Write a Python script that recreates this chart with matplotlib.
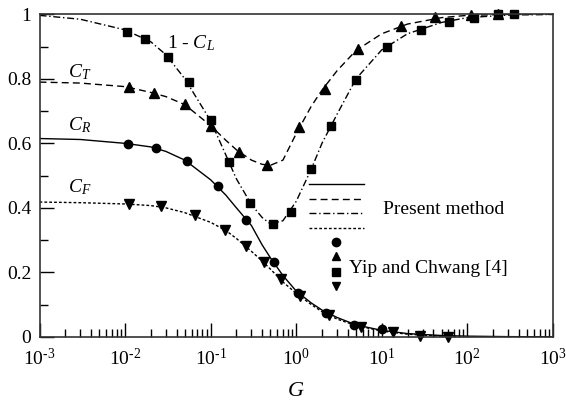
import numpy as np
import matplotlib.pyplot as plt
from matplotlib.ticker import FixedLocator, NullFormatter
from matplotlib.lines import Line2D

plt.rcParams['font.family'] = 'Liberation Serif'
plt.rcParams['mathtext.fontset'] = 'custom'
plt.rcParams['mathtext.rm'] = 'Liberation Serif'
plt.rcParams['mathtext.it'] = 'Liberation Serif:italic'

# present method curves
G_line = [1e-3, 3e-3, 1e-2, 2e-2, 3e-2, 5e-2, 0.1, 0.15, 0.2, 0.3, 0.4, 0.5, 0.7,
          1, 1.5, 2, 3, 5, 10, 20, 50, 100, 300, 1000]
CR_line = [0.615, 0.612, 0.600, 0.589, 0.575, 0.548, 0.487, 0.440, 0.400, 0.345, 0.285,
           0.245, 0.190, 0.142, 0.105, 0.083, 0.060, 0.037, 0.020, 0.010, 0.004,
           0.002, 0.0005, 0.0]
CT_line = [0.790, 0.787, 0.776, 0.758, 0.745, 0.720, 0.655, 0.610, 0.580, 0.548, 0.535,
           0.532, 0.548, 0.630, 0.715, 0.765, 0.825, 0.888, 0.940, 0.970, 0.990,
           0.997, 1.0, 1.0]
CL_line = [0.997, 0.985, 0.952, 0.915, 0.875, 0.800, 0.670, 0.565, 0.490, 0.410, 0.370,
           0.350, 0.360, 0.420, 0.520, 0.600, 0.690, 0.800, 0.890, 0.940, 0.975,
           0.990, 0.998, 1.0]
CF_line = [0.418, 0.416, 0.412, 0.407, 0.400, 0.385, 0.355, 0.330, 0.305, 0.265, 0.235,
           0.210, 0.170, 0.135, 0.100, 0.078, 0.055, 0.035, 0.018, 0.008, 0.002,
           0.0, 0.0, 0.0]

# Yip and Chwang [4]
G_R = [0.0107, 0.023, 0.0525, 0.123, 0.258, 0.55, 1.05, 2.22, 4.77, 9.96]
CR_pts = [0.598, 0.587, 0.545, 0.467, 0.362, 0.231, 0.136, 0.073, 0.038, 0.023]
G_T = [0.0111, 0.022, 0.05, 0.1, 0.214, 0.45, 1.08, 2.16, 5.3, 16.6, 42, 110, 229]
CT_pts = [0.774, 0.755, 0.721, 0.655, 0.574, 0.533, 0.65, 0.77, 0.892, 0.965, 0.993,
          0.998, 1.0]
G_L = [0.0105, 0.017, 0.032, 0.056, 0.1, 0.165, 0.288, 0.53, 0.86, 1.49, 2.54, 4.98,
       11.4, 28.4, 60.8, 120, 229, 352]
CL_pts = [0.946, 0.923, 0.867, 0.789, 0.672, 0.541, 0.416, 0.35, 0.388, 0.519, 0.654,
          0.796, 0.9, 0.953, 0.976, 0.99, 1.0, 1.0]
G_F = [0.0112, 0.026, 0.066, 0.147, 0.257, 0.42, 0.66, 1.12, 2.43, 5.7, 13.4, 27.9, 59.7]
CF_pts = [0.412, 0.405, 0.377, 0.331, 0.282, 0.233, 0.178, 0.127, 0.067, 0.031, 0.014,
          0.003, 0.0]

x_ticks = [1e-3, 1e-2, 1e-1, 1e0, 1e1, 1e2, 1e3]
x_ticklabels = [r'10$^{\text{-3}}$', r'10$^{\text{-2}}$', r'10$^{\text{-1}}$',
                r'10$^{\text{0}}$', r'10$^{\text{1}}$', r'10$^{\text{2}}$', r'10$^{\text{3}}$']
y_ticks = [0, 0.2, 0.4, 0.6, 0.8, 1.0]
y_ticklabels = ['0', '0.2', '0.4', '0.6', '0.8', '1']

fig = plt.figure(figsize=(5.66, 4.0), dpi=100)
ax = fig.add_axes([0.0698, 0.158, 0.907, 0.806])

lw = 1.0
ax.plot(G_line, CR_line, '-', color='k', lw=lw)
ax.plot(G_line, CT_line, color='k', lw=lw, dashes=(5, 3))
ax.plot(G_line, CL_line, color='k', lw=lw, dashes=(5, 2, 1, 2))
ax.plot(G_line, CF_line, color='k', lw=lw, dashes=(2, 1.5))

ms = 6
ax.plot(G_R, CR_pts, 'o', color='k', ms=ms, clip_on=False)
ax.plot(G_T, CT_pts, '^', color='k', ms=ms + 0.5, clip_on=False)
ax.plot(G_L, CL_pts, 's', color='k', ms=ms - 0.5, clip_on=False)
ax.plot(G_F, CF_pts, 'v', color='k', ms=ms + 0.5, clip_on=False)

ax.set_xscale('log')
ax.set_xlim(1e-3, 1e3)
ax.set_ylim(0, 1)
ax.set_xticks(x_ticks)
ax.set_xticklabels(x_ticklabels)
ax.yaxis.set_major_locator(FixedLocator(y_ticks))
ax.yaxis.set_minor_locator(FixedLocator([0.1, 0.3, 0.5, 0.7, 0.9]))
ax.set_yticklabels(y_ticklabels)
ax.tick_params(which='major', direction='in', length=10, width=1, labelsize=14,
               right=False, top=False)
ax.tick_params(axis='x', pad=8)
ax.tick_params(axis='y', pad=6)
ax.tick_params(which='minor', direction='in', length=6, width=1, right=False, top=False)
ax.xaxis.set_minor_formatter(NullFormatter())
for s in ax.spines.values():
    s.set_linewidth(1.2)
    s.set_color('#333333')

ax.set_xlabel('$G$', fontsize=16, labelpad=9)

fs = 14
ax.text(0.031, 0.911, r'1 - $C_L$', fontsize=fs, va='center', ha='left')
ax.text(0.00215, 0.82, r'$C_T$', fontsize=fs, va='center', ha='left')
ax.text(0.00215, 0.656, r'$C_R$', fontsize=fs, va='center', ha='left')
ax.text(0.00215, 0.464, r'$C_F$', fontsize=fs, va='center', ha='left')

# legend drawn by hand, figure pixel positions
W, H = 566.0, 400.0
def fx(px):
    return px / W
def fy(py):
    return 1 - py / H

styles = [dict(ls='-'), dict(dashes=(5, 3)), dict(dashes=(5, 2, 1, 2)), dict(dashes=(2, 1.5))]
for py, st in zip([184.3, 199.3, 213.3, 228.3], styles):
    fig.add_artist(Line2D([fx(309), fx(364)], [fy(py), fy(py)], color='k', lw=lw, **st))
fig.text(fx(383), fy(209), 'Present method', fontsize=fs, va='center', ha='left')
for py, mk in zip([241.7, 256.0, 271.7, 286.0], ['o', '^', 's', 'v']):
    fig.add_artist(Line2D([fx(336)], [fy(py)], marker=mk, color='k', ms=ms, ls='none'))
fig.text(fx(349.3), fy(268.3), 'Yip and Chwang [4]', fontsize=fs, va='center', ha='left')

fig.savefig('out.png', dpi=100)
